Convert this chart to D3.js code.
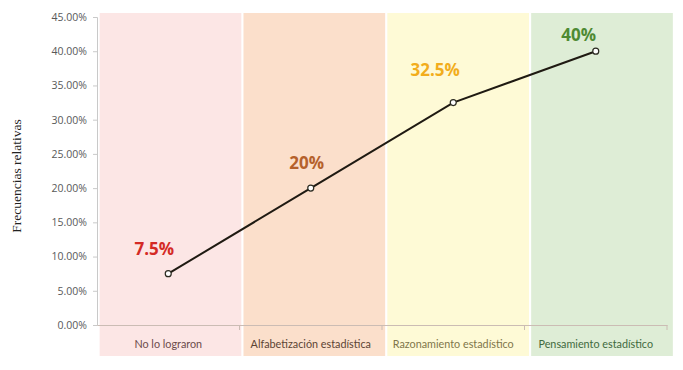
<!DOCTYPE html>
<html>
<head>
<meta charset="utf-8">
<script src="https://cdn.jsdelivr.net/npm/d3@7"></script>
<style>
  body { margin: 0; background: #fff; }
</style>
</head>
<body>
<svg></svg>
<script>
const categories = ["No lo lograron", "Alfabetización estadística", "Razonamiento estadístico", "Pensamiento estadístico"];
const values = [0.075, 0.20, 0.325, 0.40];
const valueLabels = ["7.5%", "20%", "32.5%", "40%"];
const yTicks = [0, 0.05, 0.10, 0.15, 0.20, 0.25, 0.30, 0.35, 0.40, 0.45];

const bandColors = ["#fce6e5", "#fbdfcb", "#fefad6", "#deedd6"];
const labelColors = ["#d42a25", "#b5612b", "#f2ad1c", "#4e8a33"];
const catColors = ["#6b4a4a", "#5c4434", "#80764a", "#3e6a3e"];

const width = 683;
const height = 370;
const margin = { left: 97, right: 16, top: 17, bottom: 45 };

const svg = d3.select("svg").attr("width", width).attr("height", height);

// scales
const x = d3.scaleBand()
    .domain(categories)
    .range([margin.left, width - margin.right]);

const y = d3.scaleLinear()
    .domain([0, 0.45])
    .range([height - margin.bottom, margin.top]);

// background bands (slightly shifted columns, like the original)
const xb = d3.scaleBand()
    .domain(categories)
    .range([margin.left + 1.5, 674])
    .paddingInner(0.015)
    .paddingOuter(0.008);

svg.append("g")
    .selectAll("rect")
    .data(categories)
    .join("rect")
    .attr("x", d => xb(d))
    .attr("width", xb.bandwidth())
    .attr("y", 13)
    .attr("height", 356 - 13)
    .attr("fill", (d, i) => bandColors[i]);

// y axis
const yAxis = svg.append("g")
    .attr("transform", `translate(${margin.left},0)`)
    .call(d3.axisLeft(y).tickValues(yTicks).tickFormat(d3.format(".2%")).tickSize(4).tickPadding(6));
yAxis.select(".domain").attr("stroke", "#c9c9c9");
yAxis.selectAll(".tick line").attr("stroke", "#c9c9c9");
yAxis.selectAll("text")
    .attr("fill", "#595959")
    .style("font-family", "'Open Sans', 'Liberation Sans', sans-serif")
    .style("font-size", "10.5px");

// x axis
const xAxis = svg.append("g")
    .attr("transform", `translate(0,${y(0)})`)
    .call(d3.axisBottom(x).tickSize(0).tickPadding(15));
xAxis.select(".domain").attr("stroke", "#cbbcb4");
xAxis.selectAll("text")
    .attr("fill", (d, i) => catColors[i])
    .style("font-family", "Lato, 'Open Sans', sans-serif")
    .style("font-size", "10.8px");

// boundary ticks between categories
const bounds = categories.map(c => x(c)).concat([x.range()[1]]).slice(1);
svg.append("g")
    .selectAll("line")
    .data(bounds)
    .join("line")
    .attr("x1", d => d).attr("x2", d => d)
    .attr("y1", y(0)).attr("y2", y(0) + 5)
    .attr("stroke", "#cbbcb4");

// y title
svg.append("text")
    .attr("transform", `translate(21,${(margin.top + y(0)) / 2 + 5}) rotate(-90)`)
    .attr("text-anchor", "middle")
    .attr("fill", "#222")
    .style("font-family", "'Liberation Serif', 'DejaVu Serif', serif")
    .style("font-size", "13.5px")
    .text("Frecuencias relativas");

// line
const cx = d => x(d) + x.bandwidth() / 2;
const line = d3.line()
    .x((d, i) => cx(categories[i]))
    .y(d => y(d));

svg.append("path")
    .datum(values)
    .attr("fill", "none")
    .attr("stroke", "#1f1a12")
    .attr("stroke-width", 2)
    .attr("d", line);

svg.append("g")
    .selectAll("circle")
    .data(values)
    .join("circle")
    .attr("cx", (d, i) => cx(categories[i]))
    .attr("cy", d => y(d))
    .attr("r", 3)
    .attr("fill", "#fff")
    .attr("stroke", "#2a2a20")
    .attr("stroke-width", 1.2);

// value labels
const labelShift = [[-14, -25], [-4, -25], [-18, -33], [-17, -16]];
svg.append("g")
    .selectAll("text")
    .data(values)
    .join("text")
    .attr("x", (d, i) => cx(categories[i]) + labelShift[i][0])
    .attr("y", (d, i) => y(d) + labelShift[i][1])
    .attr("dy", "0.35em")
    .attr("text-anchor", "middle")
    .attr("fill", (d, i) => labelColors[i])
    .style("font-family", "'Open Sans', 'Liberation Sans', sans-serif")
    .style("font-weight", "bold")
    .style("font-size", "17px")
    .text((d, i) => valueLabels[i]);
</script>
</body>
</html>
